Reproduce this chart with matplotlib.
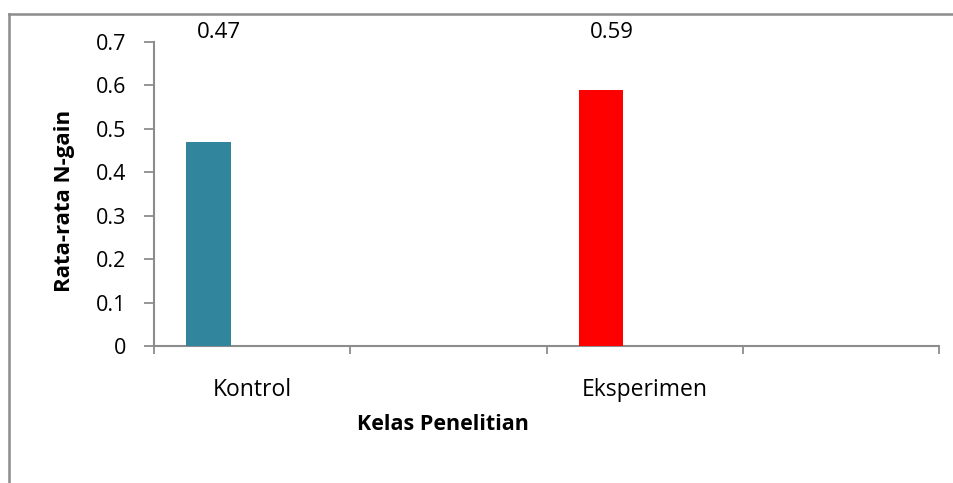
import matplotlib
matplotlib.use("Agg")
import matplotlib.pyplot as plt
from matplotlib.lines import Line2D

categories = ["Kontrol", "Eksperimen"]
values = [0.47, 0.59]
colors = ["#31859C", "#FF0000"]
y_ticks = [0, 0.1, 0.2, 0.3, 0.4, 0.5, 0.6, 0.7]
y_label = "Rata-rata N-gain"
x_label = "Kelas Penelitian"

plt.rcParams['font.family'] = ['Open Sans', 'DejaVu Sans']
FS = 16

W, H = 954, 483
fig = plt.figure(figsize=(W / 100, H / 100), dpi=100)
fig.patch.set_facecolor("white")

# outer chart border (top and left visible)
fig.add_artist(Line2D([9 / W, 9 / W], [0, 1 - 14 / H], transform=fig.transFigure,
                      color="#8c8c8c", lw=1.8))
fig.add_artist(Line2D([9 / W, 1], [1 - 14 / H, 1 - 14 / H], transform=fig.transFigure,
                      color="#8c8c8c", lw=1.8))

l, r, t, b = 154, 939, 42, 346
ax = fig.add_axes([l / W, 1 - b / H, (r - l) / W, (b - t) / H])

slot = 2  # each category spans two slots
offset = 0.165
width = 0.225
xs = [i * slot + offset + width / 2 for i in range(len(categories))]
ax.bar(xs, values, width=width, color=colors, zorder=3)

for x, v in zip(xs, values):
    ax.text(x + 0.055, 0.721, f"{v:.2f}", ha="center", va="center",
            fontsize=FS, color="black", clip_on=False)

ax.set_xlim(0, 4)
ax.set_ylim(0, 0.7)
ax.set_yticks(y_ticks)
ax.set_yticklabels([f"{v:g}" for v in y_ticks], fontsize=15.5)
ax.set_xticks([0, 1, 2, 3, 4])
ax.set_xticklabels([])
ax.set_xticks([i * slot + 0.5 for i in range(len(categories))], minor=True)
ax.set_xticklabels(categories, minor=True, fontsize=16.5)
ax.tick_params(axis="x", which="minor", length=0, pad=23)
ax.tick_params(axis="x", which="major", length=6, color="#8c8c8c", width=1.3)
ax.tick_params(axis="y", length=7, color="#8c8c8c", width=1.3, pad=13)

for s in ["top", "right"]:
    ax.spines[s].set_visible(False)
for s in ["left", "bottom"]:
    ax.spines[s].set_color("#8c8c8c")
    ax.spines[s].set_linewidth(1.5)

ax.set_ylabel(y_label, fontsize=16, fontweight="bold")
ax.set_xlabel(x_label, fontsize=15.5, fontweight="bold")
ax.xaxis.set_label_coords((443 - l) / (r - l), -(424 - b) / (b - t))
ax.xaxis.label.set_va("center")
ax.yaxis.set_label_coords(-(l - 64) / (r - l), (b - 201) / (b - t))
ax.yaxis.label.set_va("center")

fig.savefig("out.png", dpi=100)
